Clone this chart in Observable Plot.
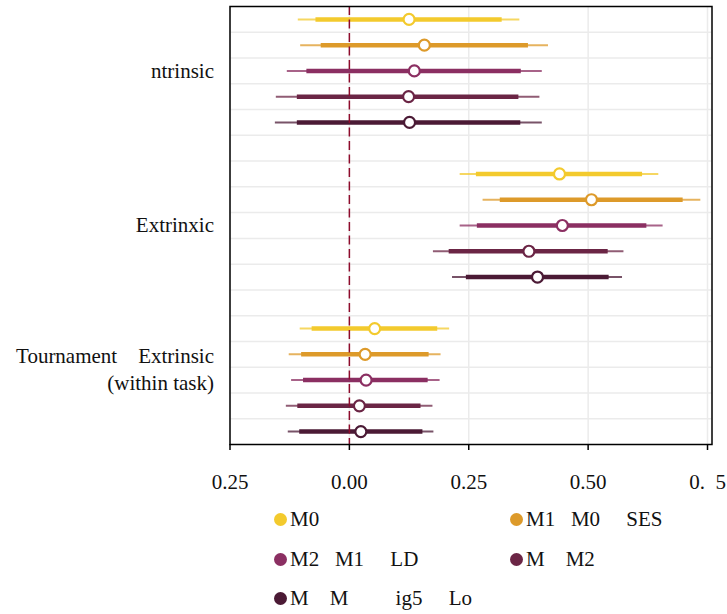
<!DOCTYPE html>
<html>
<head>
<meta charset="utf-8">
<script src="https://cdn.jsdelivr.net/npm/d3@7"></script>
<script src="https://cdn.jsdelivr.net/npm/@observablehq/plot@0.6"></script>
<style>
  body { margin: 0; background: #fff; }
  #wrap { position: relative; width: 727px; height: 614px; font-family: "Liberation Serif", serif; color: #111; }
  #legend { position: absolute; left: 273.5px; top: 500px; display: grid; grid-template-columns: 236px 236px; grid-auto-rows: 39.5px; font-size: 21px; }
  .item { display: flex; align-items: center; white-space: pre; }
  .dot { width: 13px; height: 13px; border-radius: 50%; margin-right: 3.5px; flex: none; }
</style>
</head>
<body>
<div id="wrap"></div>
<script>
// ---- data ----
const groups = ["Intrinsic", "Extrinsic", "Tournament"];
const groupLabels = ["ntrinsic", "Extrinxic", "Tournament\u00a0\u00a0\u00a0\u00a0Extrinsic\n(within task)"];
const models = ["M0", "M1", "M2", "M3", "M4"];
const modelColors = ["#F3CA2D", "#DD9A2A", "#8B2F62", "#6B2545", "#4B1A35"];
const legendLabels = [
  "M0",
  "M1\u00a0\u00a0\u00a0M0\u00a0\u00a0\u00a0\u00a0\u00a0SES",
  "M2\u00a0\u00a0\u00a0M1\u00a0\u00a0\u00a0\u00a0\u00a0LD",
  "M\u00a0\u00a0\u00a0\u00a0M2",
  "M\u00a0\u00a0\u00a0\u00a0M\u00a0\u00a0\u00a0\u00a0\u00a0\u00a0\u00a0\u00a0\u00a0ig5\u00a0\u00a0\u00a0\u00a0\u00a0Lo"
];
// values ordered: Intrinsic M0..M4, Extrinsic M0..M4, Tournament M0..M4
const estimate = [0.125, 0.157, 0.136, 0.124, 0.126,  0.440, 0.507, 0.446, 0.376, 0.394,  0.053, 0.033, 0.035, 0.021, 0.024];
const innerLo  = [-0.070, -0.059, -0.089, -0.109, -0.109,  0.266, 0.316, 0.268, 0.209, 0.245,  -0.078, -0.100, -0.096, -0.108, -0.104];
const innerHi  = [0.320, 0.375, 0.360, 0.355, 0.359,  0.614, 0.699, 0.623, 0.542, 0.544,  0.185, 0.167, 0.165, 0.150, 0.154];
const outerLo  = [-0.107, -0.102, -0.130, -0.153, -0.155,  0.232, 0.280, 0.232, 0.176, 0.216,  -0.103, -0.126, -0.121, -0.132, -0.128];
const outerHi  = [0.357, 0.417, 0.404, 0.399, 0.404,  0.648, 0.736, 0.657, 0.575, 0.572,  0.210, 0.192, 0.190, 0.175, 0.177];
const xTicks = [-0.25, 0, 0.25, 0.5, 0.75];
const xTickLabels = ["0.25", "0.00", "0.25", "0.50", "0.\u00a0\u00a05"];

// ---- table ----
const slotsPerGroup = models.length + 1;
const rows = estimate.map((e, i) => {
  const g = Math.floor(i / models.length), m = i % models.length;
  return {group: groups[g], model: models[m], slot: g * slotsPerGroup + m,
          est: e, ilo: innerLo[i], ihi: innerHi[i], olo: outerLo[i], ohi: outerHi[i]};
});
const nSlots = groups.length * slotsPerGroup - 1;
const gridRows = d3.range(0.5, nSlots - 1, 1);
const labelRows = groups.map((g, gi) => ({label: groupLabels[gi], slot: gi * slotsPerGroup + (models.length - 1) / 2}));

const font = "Liberation Serif";
const chart = Plot.plot({
  width: 727, height: 500,
  marginTop: 6, marginBottom: 56, marginLeft: 229.5, marginRight: 15.5,
  style: {fontFamily: font, fontSize: "21px", color: "#111", background: "#fff"},
  x: {domain: [-0.25, 0.7594]},
  y: {domain: [-0.5, nSlots - 0.5], reverse: true, axis: null},
  color: {domain: models, range: modelColors},
  marks: [
    Plot.gridX(xTicks, {stroke: "#ebebeb", strokeOpacity: 1, strokeWidth: 1.5}),
    Plot.ruleY(gridRows, {stroke: "#ebebeb", strokeWidth: 1.5}),
    Plot.ruleY(rows, {y: "slot", x1: "olo", x2: "ohi", stroke: "model", strokeWidth: 2, strokeOpacity: 0.75}),
    Plot.ruleY(rows, {y: "slot", x1: "ilo", x2: "ihi", stroke: "model", strokeWidth: 4.5}),
    Plot.ruleX([0], {stroke: "#8E0B2C", strokeWidth: 1.5, strokeDasharray: "9,4.5"}),
    Plot.dot(rows, {x: "est", y: "slot", stroke: "model", fill: "white", r: 5.5, strokeWidth: 2.2}),
    Plot.text(labelRows.slice(0, 2), {y: "slot", text: "label", frameAnchor: "left", textAnchor: "end", dx: -16, fontSize: 21, fill: "#111"}),
    Plot.text(labelRows.slice(2), {y: "slot", text: "label", frameAnchor: "left", textAnchor: "end", dx: -16, dy: -12, lineHeight: 1.27, fontSize: 21, fill: "#111"}),
    Plot.frame({stroke: "black", strokeWidth: 1.5}),
    Plot.axisX(xTicks, {tickFormat: (d, i) => xTickLabels[xTicks.indexOf(d)], tickSize: 6, tickPadding: 24, fontSize: 21, stroke: "black", strokeWidth: 1.5, fill: "#111"})
  ]
});

const wrap = document.getElementById("wrap");
wrap.appendChild(chart);
const legend = document.createElement("div");
legend.id = "legend";
models.forEach((m, i) => {
  const item = document.createElement("div");
  item.className = "item";
  const dot = document.createElement("span");
  dot.className = "dot";
  dot.style.background = modelColors[i];
  const t = document.createElement("span");
  t.textContent = legendLabels[i];
  item.appendChild(dot); item.appendChild(t);
  legend.appendChild(item);
});
wrap.appendChild(legend);
</script>
</body>
</html>
